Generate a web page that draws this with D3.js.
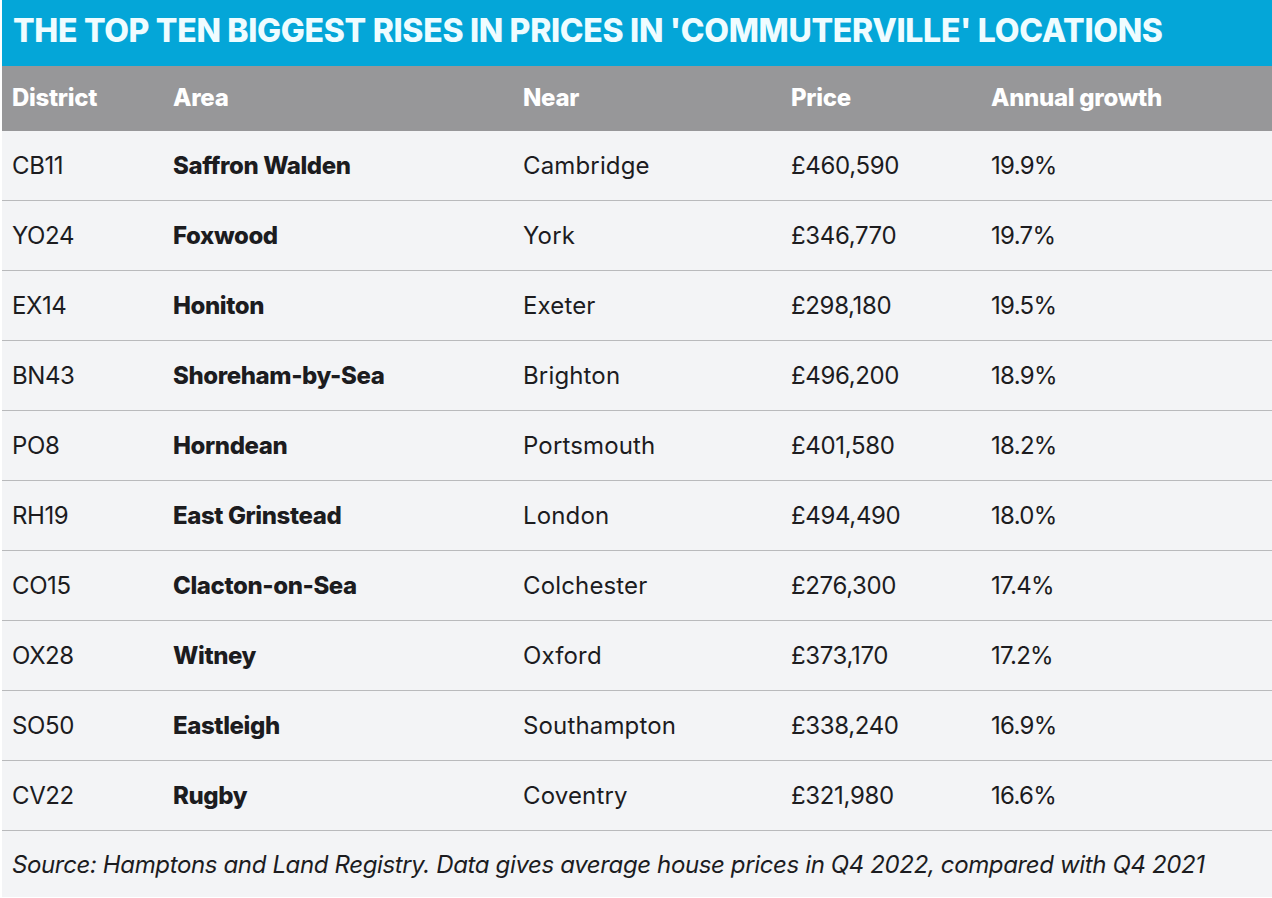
<!DOCTYPE html>
<html>
<head>
<meta charset="utf-8">
<script src="https://cdn.jsdelivr.net/npm/d3@7"></script>
<style>
  html, body { margin: 0; padding: 0; background: #fff; }
  svg { display: block; }
  text { font-family: Inter, Roboto, sans-serif; }
</style>
</head>
<body>
<div id="chart"></div>
<script>
var titleText = "THE TOP TEN BIGGEST RISES IN PRICES IN 'COMMUTERVILLE' LOCATIONS";
var sourceText = "Source: Hamptons and Land Registry. Data gives average house prices in Q4 2022, compared with Q4 2021";

var columns = ["District", "Area", "Near", "Price", "Annual growth"];
var districts = ["CB11", "YO24", "EX14", "BN43", "PO8", "RH19", "CO15", "OX28", "SO50", "CV22"];
var areas = ["Saffron Walden", "Foxwood", "Honiton", "Shoreham-by-Sea", "Horndean", "East Grinstead", "Clacton-on-Sea", "Witney", "Eastleigh", "Rugby"];
var nearby = ["Cambridge", "York", "Exeter", "Brighton", "Portsmouth", "London", "Colchester", "Oxford", "Southampton", "Coventry"];
var prices = ["£460,590", "£346,770", "£298,180", "£496,200", "£401,580", "£494,490", "£276,300", "£373,170", "£338,240", "£321,980"];
var growth = ["19.9%", "19.7%", "19.5%", "18.9%", "18.2%", "18.0%", "17.4%", "17.2%", "16.9%", "16.6%"];

var width = 1272;
var height = 898;
var left = 2;

var svg = d3.select("#chart").append("svg")
    .attr("width", width)
    .attr("height", height)
    .attr("viewBox", "0 0 " + width + " " + height);

// column text starts
var xScale = d3.scaleOrdinal().domain(columns).range([12, 173, 523, 791, 991]);
// tracking per column, tuned against the picture
var spacing = d3.scaleOrdinal().domain(columns).range([-0.4, -0.4, 0.15, -0.35, -0.7]);
var yScale = d3.scaleBand().domain(districts).range([131, 831]);

svg.append("rect").attr("x", left).attr("y", 0).attr("width", width - left).attr("height", 66).attr("fill", "#04a6d8");
svg.append("rect").attr("x", left).attr("y", 66).attr("width", width - left).attr("height", 65).attr("fill", "#979799");
svg.append("rect").attr("x", left).attr("y", 131).attr("width", width - left).attr("height", 766).attr("fill", "#f3f4f6");

svg.append("text")
    .attr("x", 13)
    .attr("y", 41.5)
    .attr("fill", "#effcff")
    .attr("font-size", 32)
    .attr("font-weight", 800)
    .attr("letter-spacing", -0.31)
    .text(titleText);

svg.selectAll(".head")
    .data(columns)
    .enter().append("text")
    .attr("class", "head")
    .attr("x", function (d) { return xScale(d); })
    .attr("y", 106)
    .attr("fill", "#ffffff")
    .attr("font-size", 24)
    .attr("font-weight", 800)
    .attr("letter-spacing", -0.3)
    .text(function (d) { return d; });

// row separators
svg.selectAll(".rule")
    .data(districts)
    .enter().append("line")
    .attr("class", "rule")
    .attr("x1", left)
    .attr("x2", width)
    .attr("y1", function (d) { return yScale(d) + yScale.bandwidth() - 0.5; })
    .attr("y2", function (d) { return yScale(d) + yScale.bandwidth() - 0.5; })
    .attr("stroke", "#b9babc")
    .attr("stroke-width", 1.2);

var rows = svg.selectAll(".row")
    .data(districts)
    .enter().append("g")
    .attr("class", "row")
    .attr("transform", function (d) { return "translate(0," + (yScale(d) + 43) + ")"; });

var colValues = [districts, areas, nearby, prices, growth];

columns.forEach(function (col, c) {
    rows.append("text")
        .attr("x", xScale(col))
        .attr("fill", "#1c1c1f")
        .attr("font-size", 24)
        .attr("font-weight", col === "Area" ? 800 : 400)
        .attr("letter-spacing", spacing(col))
        .text(function (d, i) { return colValues[c][i]; });
});

svg.append("text")
    .attr("x", 12)
    .attr("y", 873)
    .attr("fill", "#1c1c1f")
    .attr("font-size", 24)
    .attr("font-style", "italic")
    .attr("letter-spacing", -0.37)
    .text(sourceText);
</script>
</body>
</html>
